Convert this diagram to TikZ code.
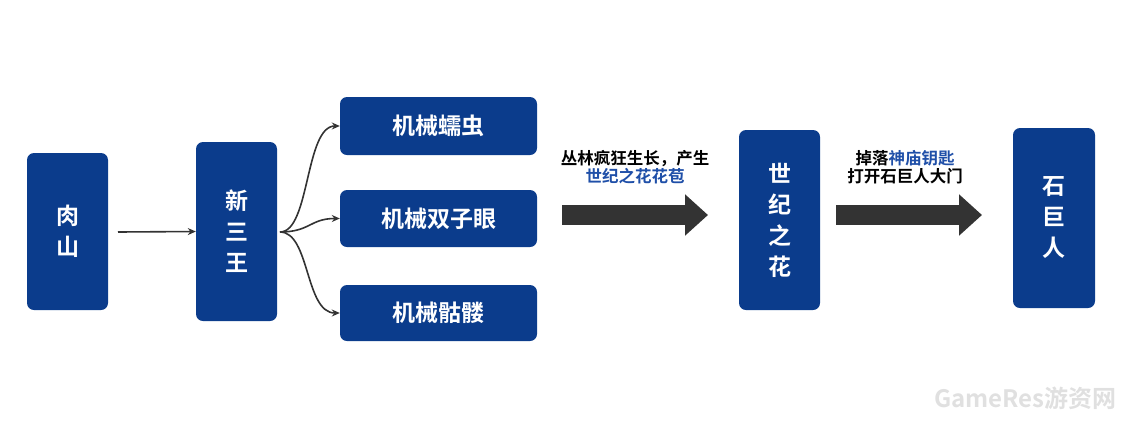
\documentclass[tikz,border=0pt]{standalone}
\usepackage{fontspec}
\newfontfamily\cjk{Noto Sans CJK SC}[BoldFont={Noto Sans CJK SC Bold}]
\usetikzlibrary{arrows.meta}
\definecolor{boxblue}{HTML}{0B3C8C}
\definecolor{arrgray}{HTML}{333333}
\definecolor{hl}{HTML}{1F4FA8}
\begin{document}
\begin{tikzpicture}[x=1pt,y=-1pt,
  box/.style={fill=boxblue,rounded corners=7pt,text=white,font=\cjk\bfseries\fontsize{23}{31}\selectfont,align=center,inner sep=0pt},
  lbl/.style={font=\cjk\bfseries\fontsize{16.5}{18}\selectfont,align=center,text=black},
  thin/.style={-{Stealth[length=8pt,width=7pt]},line width=1.6pt,arrgray},
  big/.style={-{Triangle[length=23pt,width=40pt]},line width=20pt,arrgray}]
\useasboundingbox (0,0) rectangle (1143,432);
\node[box,minimum width=81pt,minimum height=157pt] (rs) at (67.5,231.5) {肉\\山};
\node[box,minimum width=81pt,minimum height=179pt] (xsw) at (236.5,231.5) {新\\三\\王};
\node[box,minimum width=197pt,minimum height=58pt] (m1) at (438.5,126) {机械蠕虫};
\node[box,minimum width=197pt,minimum height=57pt] (m2) at (438.5,218.5) {机械双子眼};
\node[box,minimum width=197pt,minimum height=56pt] (m3) at (438.5,313) {机械骷髅};
\node[box,minimum width=81pt,minimum height=180pt] (sjzh) at (779.5,220) {世\\纪\\之\\花};
\node[box,minimum width=82pt,minimum height=180pt] (sjr) at (1054,218) {石\\巨\\人};
\draw[thin] (118,232) -- (xsw.west);
\coordinate (fork) at (280,232);
\draw[thin] (fork) .. controls (310,232) and (305,126) .. (m1.west);
\draw[thin] (fork) .. controls (310,232) and (310,218.5) .. (m2.west);
\draw[thin] (fork) .. controls (310,232) and (305,313) .. (m3.west);
\coordinate (a1s) at (562,215); \coordinate (a1e) at (708,215);
\coordinate (a2s) at (836,215); \coordinate (a2e) at (982,215);
\draw[big] (a1s) -- (a1e);
\draw[big] (a2s) -- (a2e);
\node[lbl] (l1) at (635,167) {丛林疯狂生长，产生\\\textcolor{hl}{世纪之花花苞}};
\node[lbl] (l2) at (905,167) {掉落\textcolor{hl}{神庙钥匙}\\打开石巨人大门};
\node[font=\cjk\bfseries\fontsize{24}{26}\selectfont,text=black!12,anchor=east] (wm) at (1120,398) {GameRes游资网};
\end{tikzpicture}
\end{document}
